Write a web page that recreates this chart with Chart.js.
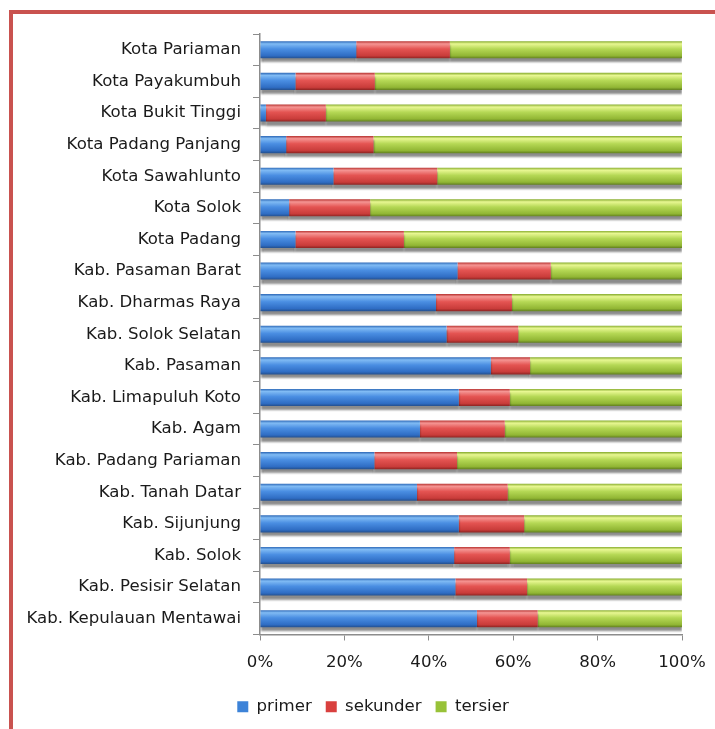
<!DOCTYPE html>
<html>
<head>
<meta charset="utf-8">
<script src="https://cdn.jsdelivr.net/npm/chart.js@4"></script>
<style>
  html, body { margin: 0; padding: 0; background: #fff; overflow: hidden; }
  #frame { position: absolute; left: 9px; top: 10px; width: 800px; height: 800px;
           border: 4px solid #c9524f; box-sizing: border-box; }
  #wrap { position: absolute; left: 0; top: 0; width: 715px; height: 729px; }
</style>
</head>
<body>
<div id="frame"></div>
<div id="wrap"><canvas id="chart" width="715" height="729"></canvas></div>
<script>
const categories = [
  "Kota Pariaman", "Kota Payakumbuh", "Kota Bukit Tinggi", "Kota Padang Panjang",
  "Kota Sawahlunto", "Kota Solok", "Kota Padang", "Kab. Pasaman Barat",
  "Kab. Dharmas Raya", "Kab. Solok Selatan", "Kab. Pasaman", "Kab. Limapuluh Koto",
  "Kab. Agam", "Kab. Padang Pariaman", "Kab. Tanah Datar", "Kab. Sijunjung",
  "Kab. Solok", "Kab. Pesisir Selatan", "Kab. Kepulauan Mentawai"
];
const primer   = [22.8, 8.4, 1.4, 6.2, 17.4, 6.9, 8.4, 46.8, 41.7, 44.2, 54.7, 47.1, 37.9, 27.1, 37.2, 47.1, 46.0, 46.3, 51.4];
const sekunder = [22.2, 18.8, 14.2, 20.7, 24.6, 19.2, 25.7, 22.1, 18.0, 17.0, 9.3, 12.1, 20.1, 19.6, 21.5, 15.5, 13.2, 17.0, 14.4];
const tersier  = [55.0, 72.8, 84.4, 73.1, 58.0, 73.9, 65.9, 31.1, 40.3, 38.8, 36.0, 40.8, 42.0, 53.3, 41.3, 37.4, 40.8, 36.7, 34.2];
const xTicks = [0, 20, 40, 60, 80, 100];

const FONT = "'DejaVu Sans', sans-serif";
const FSIZE = 16.6;
const BAR_H = 17;
const baseColors = ["#3d83d8", "#d9403e", "#98c238"];

// glossy fill for each bar: light top, dark bottom
function glossy(base, stops) {
  return (ctx) => {
    const chart = ctx.chart;
    const y = chart.scales && chart.scales.y;
    if (ctx.dataIndex === undefined || !y || !chart.chartArea) return base;
    const py = y.getPixelForValue(ctx.dataIndex);
    const g = chart.ctx.createLinearGradient(0, py - BAR_H / 2, 0, py + BAR_H / 2);
    g.addColorStop(0, stops[0]);
    g.addColorStop(0.15, stops[1]);
    g.addColorStop(0.45, stops[2]);
    g.addColorStop(0.85, stops[3]);
    g.addColorStop(1, stops[4]);
    return g;
  };
}

const shadowPlugin = {
  id: "barShadow",
  afterLayout(chart) {
    // let the long category labels run past the left padding
    chart.scales.y.left = 0;
  },
  beforeDatasetsDraw(chart) {
    const c = chart.ctx;
    c.save();
    c.shadowColor = "rgba(0,0,0,0.45)";
    c.shadowOffsetY = 4;
    c.shadowOffsetX = 0;
    c.shadowBlur = 2;
  },
  afterDatasetsDraw(chart) {
    chart.ctx.restore();
  }
};

new Chart(document.getElementById("chart"), {
  type: "bar",
  data: {
    labels: categories,
    datasets: [
      { label: "primer", data: primer, backgroundColor: glossy(baseColors[0], ["#2f6ab8", "#80bbf4", "#4a8ee2", "#2f6dc4", "#24508f"]) },
      { label: "sekunder", data: sekunder, backgroundColor: glossy(baseColors[1], ["#b83432", "#f59593", "#e45452", "#c93c3a", "#8e2422"]) },
      { label: "tersier", data: tersier, backgroundColor: glossy(baseColors[2], ["#88ad30", "#e8f792", "#b5d855", "#91b634", "#62801f"]) }
    ]
  },
  options: {
    indexAxis: "y",
    responsive: false,
    animation: false,
    devicePixelRatio: 1,
    layout: { padding: { top: 34, left: 46, right: 15, bottom: 4 } },
    datasets: { bar: { barPercentage: 0.54, categoryPercentage: 1, borderWidth: 0 } },
    scales: {
      x: {
        stacked: true,
        min: 0,
        max: 100,
        afterBuildTicks(scale) { scale.ticks = xTicks.map(v => ({ value: v })); },
        afterFit(scale) { scale.paddingRight = 33; },
        ticks: {
          font: { family: FONT, size: FSIZE },
          color: "#1a1a1a",
          padding: 12,
          callback: v => v + "%"
        },
        grid: { display: true, drawOnChartArea: false, drawTicks: true, tickLength: 6, color: "#8c8c8c" },
        border: { display: true, color: "#8c8c8c", width: 1.5 }
      },
      y: {
        stacked: true,
        afterFit(scale) { scale.width = 214; },
        ticks: {
          font: { family: FONT, size: FSIZE },
          color: "#1a1a1a",
          padding: 12,
          autoSkip: false
        },
        grid: { display: true, offset: true, drawOnChartArea: false, drawTicks: true, tickLength: 7, color: "#8c8c8c" },
        border: { display: true, color: "#8c8c8c", width: 1.5 }
      }
    },
    plugins: {
      legend: {
        position: "bottom",
        labels: {
          font: { family: FONT, size: FSIZE },
          color: "#1a1a1a",
          boxWidth: 11,
          boxHeight: 11,
          padding: 14,
          generateLabels(chart) {
            const items = Chart.defaults.plugins.legend.labels.generateLabels(chart);
            items.forEach((it, i) => { it.fillStyle = baseColors[i]; it.strokeStyle = baseColors[i]; it.lineWidth = 0; });
            return items;
          }
        }
      },
      tooltip: { enabled: false }
    }
  },
  plugins: [shadowPlugin]
});
</script>
</body>
</html>
